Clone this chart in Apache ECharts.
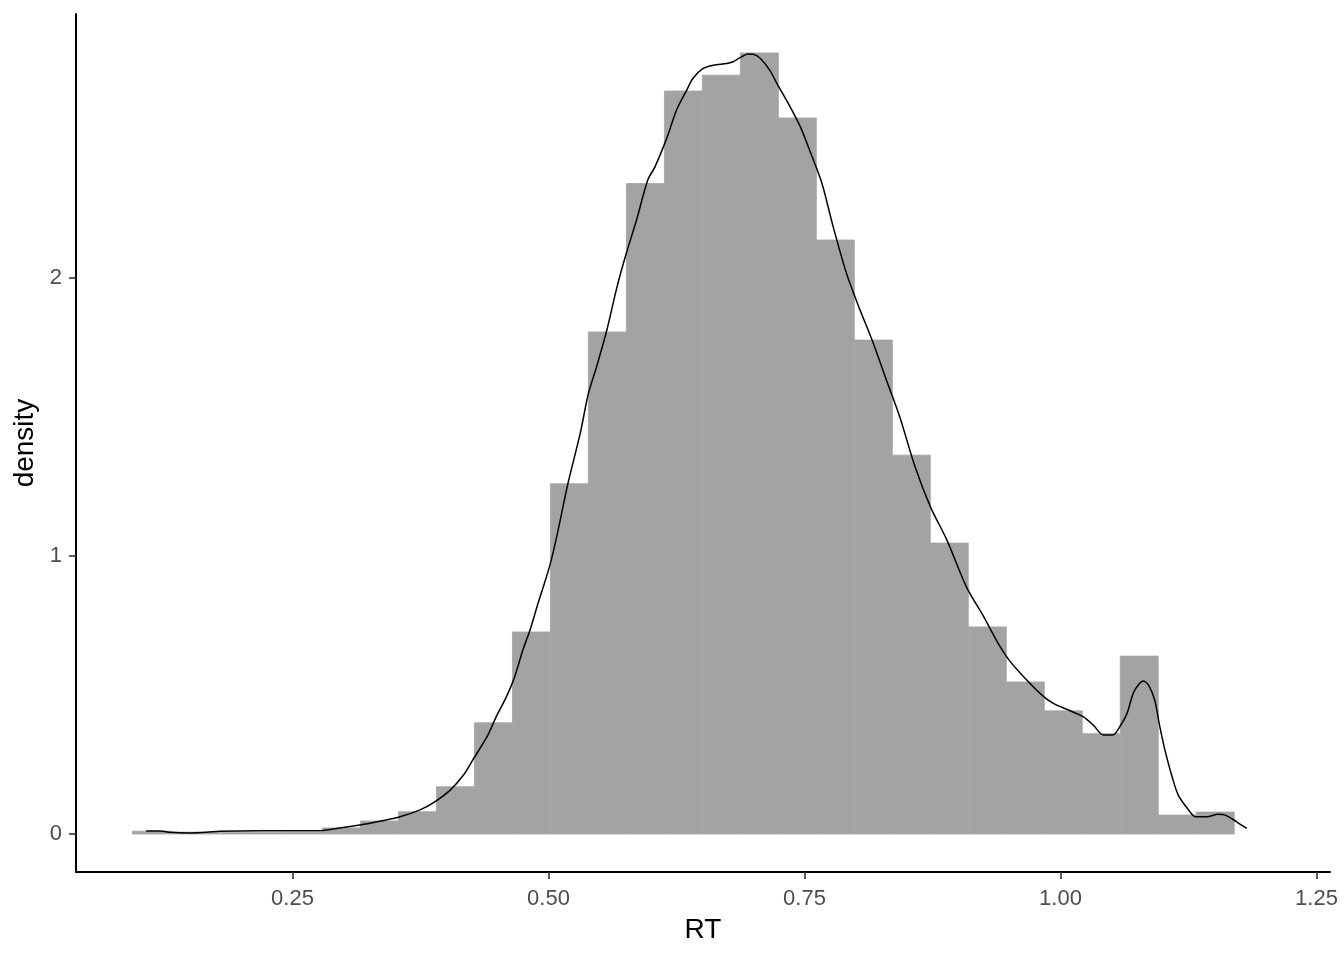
<!DOCTYPE html>
<html>
<head>
<meta charset="utf-8">
<script src="https://cdn.jsdelivr.net/npm/echarts@6/dist/echarts.min.js"></script>
<style>html,body{margin:0;padding:0;background:#fff;}#chart{width:1344px;height:960px;}</style>
</head>
<body>
<div id="chart"></div>
<script>
// Histogram (density scale)
const binStart = 0.0938;
const binWidth = 0.0371;
const histDensity = [0.010,0.007,0.005,0.005,0.006,0.022,0.047,0.080,0.170,0.400,0.727,1.260,1.806,2.340,2.673,2.730,2.810,2.576,2.137,1.777,1.363,1.047,0.745,0.547,0.443,0.361,0.640,0.068,0.079,0];

// Kernel density curve
const densityX = [0.107,0.121,0.131,0.150,0.166,0.179,0.220,0.275,0.290,0.316,0.338,0.355,0.374,0.387,0.404,0.417,0.426,0.440,0.449,0.459,0.467,0.475,0.482,0.489,0.501,0.508,0.519,0.531,0.539,0.547,0.557,0.567,0.576,0.586,0.597,0.604,0.616,0.625,0.635,0.641,0.651,0.661,0.674,0.680,0.687,0.695,0.700,0.707,0.716,0.724,0.736,0.746,0.755,0.767,0.778,0.791,0.803,0.816,0.830,0.843,0.858,0.873,0.889,0.908,0.925,0.939,0.951,0.967,0.983,0.993,1.006,1.022,1.032,1.042,1.051,1.058,1.065,1.071,1.076,1.081,1.086,1.092,1.097,1.102,1.109,1.115,1.124,1.132,1.143,1.154,1.161,1.172,1.182];
const densityY = [0.011,0.011,0.006,0.004,0.006,0.010,0.012,0.012,0.018,0.032,0.048,0.062,0.086,0.111,0.158,0.212,0.266,0.350,0.422,0.494,0.566,0.662,0.734,0.820,0.962,1.069,1.261,1.441,1.585,1.681,1.813,1.969,2.089,2.209,2.353,2.400,2.508,2.604,2.676,2.718,2.754,2.766,2.772,2.778,2.793,2.806,2.805,2.790,2.748,2.694,2.616,2.544,2.460,2.341,2.185,2.017,1.897,1.777,1.633,1.501,1.321,1.177,1.058,0.890,0.782,0.687,0.620,0.554,0.496,0.470,0.449,0.422,0.392,0.356,0.356,0.386,0.434,0.506,0.536,0.550,0.536,0.482,0.386,0.302,0.206,0.140,0.092,0.062,0.062,0.071,0.068,0.044,0.020];

// Axis ticks
const xTicks = [0.25, 0.50, 0.75, 1.00, 1.25];
const yTicks = [0, 1, 2];

const histData = histDensity.map((h, i) => [binStart + i * binWidth, binStart + (i + 1) * binWidth, h]);
const lineData = densityX.map((x, i) => [x, densityY[i]]);

const chart = echarts.init(document.getElementById('chart'), null, {renderer: 'canvas'});
const font = 'Liberation Sans, Arial, sans-serif';
chart.setOption({
  animation: false,
  backgroundColor: '#ffffff',
  grid: {left: 76, right: 14, top: 14, bottom: 88, containLabel: false},
  xAxis: {
    type: 'value', min: 0.0386, max: 1.2632,
    name: 'RT', nameLocation: 'middle', nameGap: 44,
    nameTextStyle: {color: '#000', fontSize: 28, fontFamily: font},
    splitLine: {show: false},
    axisLine: {show: true, onZero: false, lineStyle: {color: '#000', width: 2}},
    axisTick: {show: true, customValues: xTicks, length: 7, lineStyle: {color: '#333', width: 1.6}},
    axisLabel: {customValues: xTicks, margin: 16, color: '#4D4D4D', fontSize: 22, fontFamily: font,
      formatter: v => v.toFixed(2)}
  },
  yAxis: {
    type: 'value', min: -0.1367, max: 2.950,
    name: 'density', nameLocation: 'middle', nameGap: 36, nameRotate: 90,
    nameTextStyle: {color: '#000', fontSize: 28, fontFamily: font},
    splitLine: {show: false},
    axisLine: {show: true, onZero: false, lineStyle: {color: '#000', width: 2}},
    axisTick: {show: true, customValues: yTicks, length: 7, lineStyle: {color: '#333', width: 1.6}},
    axisLabel: {customValues: yTicks, margin: 14, color: '#4D4D4D', fontSize: 22, fontFamily: font,
      formatter: v => String(v)}
  },
  series: [
    {
      type: 'custom',
      data: histData,
      encode: {x: [0, 1], y: 2},
      renderItem: function (params, api) {
        if (!(api.value(2) > 0)) return null;
        const p0 = api.coord([api.value(0), 0]);
        const p1 = api.coord([api.value(1), api.value(2)]);
        return {
          type: 'rect',
          shape: {x: p0[0], y: p1[1], width: p1[0] - p0[0], height: p0[1] - p1[1]},
          style: {fill: '#A3A3A3', stroke: '#A3A3A3', lineWidth: 0.8}
        };
      },
      z: 1
    },
    {
      type: 'line',
      data: lineData,
      showSymbol: false,
      smooth: 0.3,
      lineStyle: {color: '#000', width: 1.5},
      z: 2
    }
  ]
});
</script>
</body>
</html>
